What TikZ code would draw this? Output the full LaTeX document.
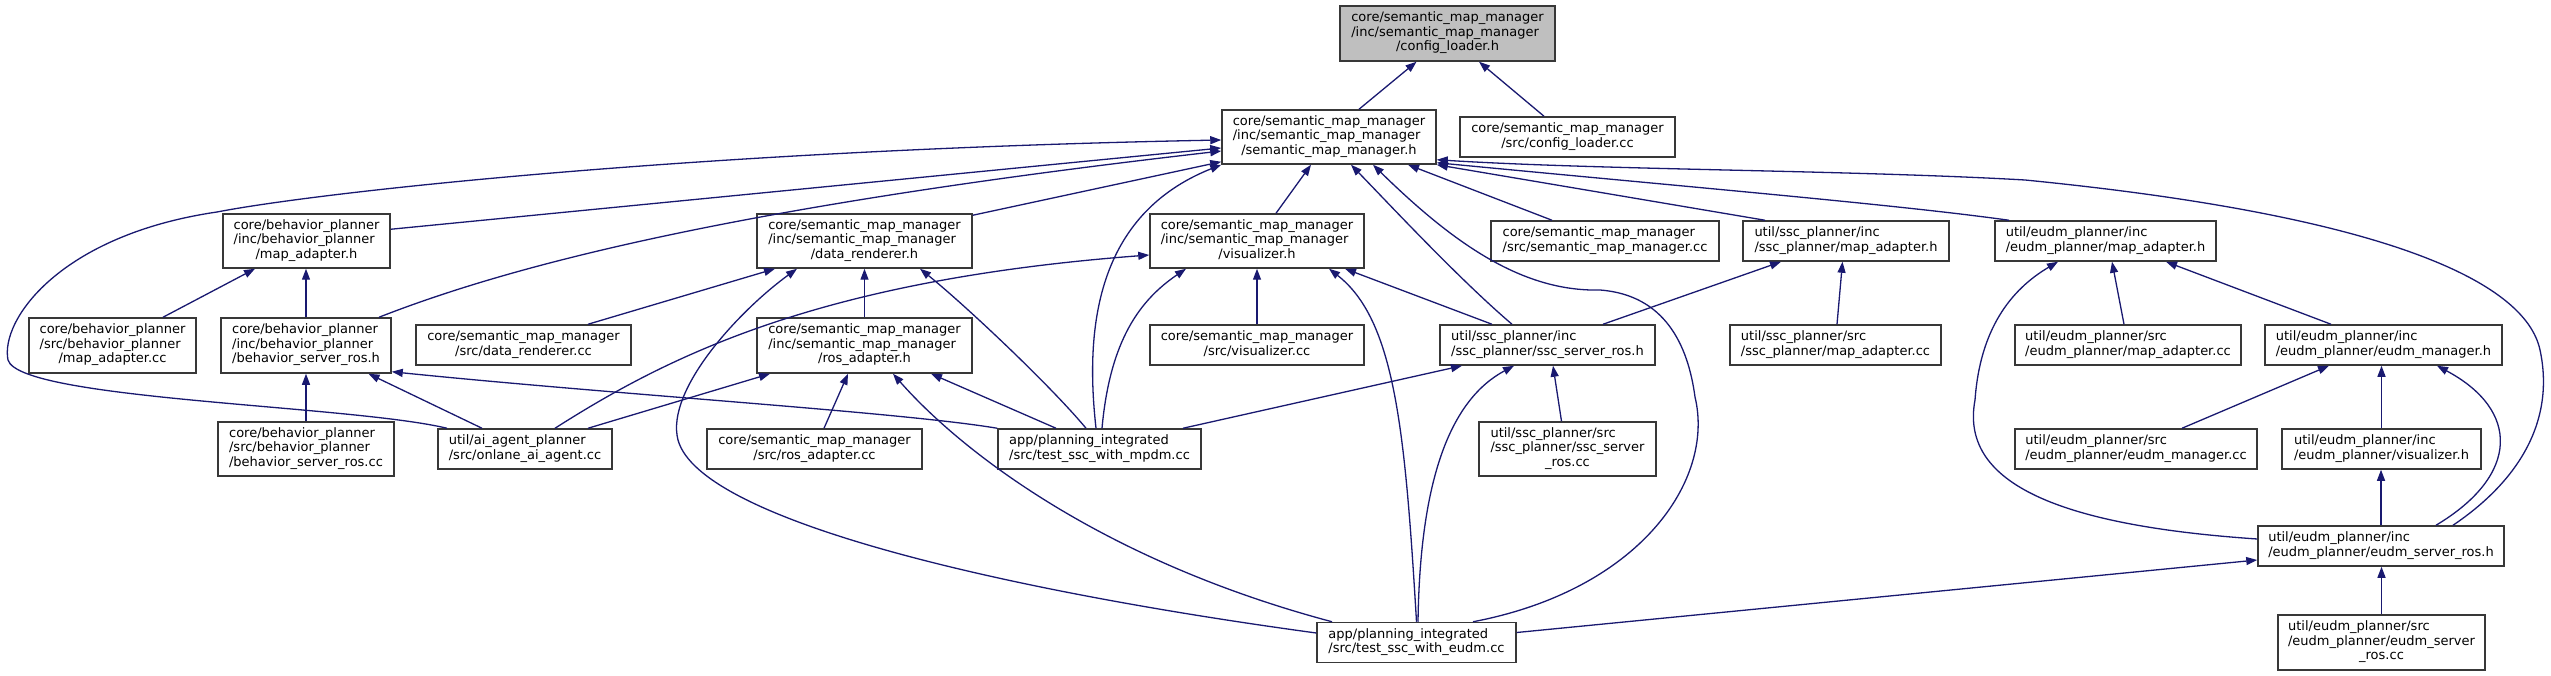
\documentclass[tikz,border=0pt]{standalone}
\usepackage{fontspec}
\setmainfont{DejaVu Sans}
\usetikzlibrary{arrows.meta}
\definecolor{edgec}{HTML}{191970}
\definecolor{bordc}{HTML}{383838}
\definecolor{fillg}{HTML}{BFBFBF}
\newcommand\lbl[2]{\begin{tabular}{@{}l@{}}#1\\\multicolumn{1}{@{}c@{}}{#2}\end{tabular}}
\begin{document}
\begin{tikzpicture}[x=1pt,y=-1pt,
  box/.style={draw=bordc, line width=1.5pt, fill=white, inner sep=0pt, font=\fontsize{13}{14.5}\selectfont},
  edge/.style={draw=edgec, line width=1.3pt, -{Triangle[length=11pt,width=8pt]}}]
\fill[white] (0,0) rectangle (2551,676);
\useasboundingbox (0,0) rectangle (2551,676);
% nodes
\node[box, fill=fillg, minimum width=215pt, minimum height=55pt] (CL) at (1447.5,33.5) {\lbl{core/semantic\_map\_manager\\/inc/semantic\_map\_manager}{/config\_loader.h}};
\node[box, minimum width=214pt, minimum height=54pt] (SMM) at (1329,137) {\lbl{core/semantic\_map\_manager\\/inc/semantic\_map\_manager}{/semantic\_map\_manager.h}};
\node[box, minimum width=215pt, minimum height=40pt] (CLcc) at (1567.5,137) {\lbl{core/semantic\_map\_manager}{/src/config\_loader.cc}};
\node[box, minimum width=167pt, minimum height=54pt] (BMA) at (306.5,241) {\lbl{core/behavior\_planner\\/inc/behavior\_planner}{/map\_adapter.h}};
\node[box, minimum width=215pt, minimum height=54pt] (DR) at (864.5,241) {\lbl{core/semantic\_map\_manager\\/inc/semantic\_map\_manager}{/data\_renderer.h}};
\node[box, minimum width=214pt, minimum height=54pt] (VIS) at (1257,241) {\lbl{core/semantic\_map\_manager\\/inc/semantic\_map\_manager}{/visualizer.h}};
\node[box, minimum width=228pt, minimum height=40pt] (SMMcc) at (1605,241) {\lbl{core/semantic\_map\_manager}{/src/semantic\_map\_manager.cc}};
\node[box, minimum width=206pt, minimum height=40pt] (SMA) at (1846,241) {\lbl{util/ssc\_planner/inc}{/ssc\_planner/map\_adapter.h}};
\node[box, minimum width=221pt, minimum height=40pt] (EMA) at (2105.5,241) {\lbl{util/eudm\_planner/inc}{/eudm\_planner/map\_adapter.h}};
\node[box, minimum width=167pt, minimum height=55pt] (BMAcc) at (112.5,345.5) {\lbl{core/behavior\_planner\\/src/behavior\_planner}{/map\_adapter.cc}};
\node[box, minimum width=170pt, minimum height=55pt] (BSR) at (306,345.5) {\lbl{core/behavior\_planner\\/inc/behavior\_planner}{/behavior\_server\_ros.h}};
\node[box, minimum width=215pt, minimum height=40pt] (DRcc) at (523.5,345) {\lbl{core/semantic\_map\_manager}{/src/data\_renderer.cc}};
\node[box, minimum width=215pt, minimum height=55pt] (ROS) at (864.5,345.5) {\lbl{core/semantic\_map\_manager\\/inc/semantic\_map\_manager}{/ros\_adapter.h}};
\node[box, minimum width=214pt, minimum height=40pt] (VIScc) at (1257,345) {\lbl{core/semantic\_map\_manager}{/src/visualizer.cc}};
\node[box, minimum width=215pt, minimum height=40pt] (SSR) at (1547.5,345) {\lbl{util/ssc\_planner/inc}{/ssc\_planner/ssc\_server\_ros.h}};
\node[box, minimum width=211pt, minimum height=40pt] (SMAcc) at (1835.5,345) {\lbl{util/ssc\_planner/src}{/ssc\_planner/map\_adapter.cc}};
\node[box, minimum width=226pt, minimum height=40pt] (EMAcc) at (2128,345) {\lbl{util/eudm\_planner/src}{/eudm\_planner/map\_adapter.cc}};
\node[box, minimum width=237pt, minimum height=40pt] (EM) at (2383.5,345) {\lbl{util/eudm\_planner/inc}{/eudm\_planner/eudm\_manager.h}};
\node[box, minimum width=176pt, minimum height=54pt] (BSRcc) at (306,449) {\lbl{core/behavior\_planner\\/src/behavior\_planner}{/behavior\_server\_ros.cc}};
\node[box, minimum width=174pt, minimum height=40pt] (AI) at (525,449) {\lbl{util/ai\_agent\_planner}{/src/onlane\_ai\_agent.cc}};
\node[box, minimum width=215pt, minimum height=40pt] (ROScc) at (814.5,449) {\lbl{core/semantic\_map\_manager}{/src/ros\_adapter.cc}};
\node[box, minimum width=203pt, minimum height=40pt] (MPDM) at (1099.5,449) {\lbl{app/planning\_integrated}{/src/test\_ssc\_with\_mpdm.cc}};
\node[box, minimum width=177pt, minimum height=54pt] (SSRcc) at (1567.5,449) {\lbl{util/ssc\_planner/src\\/ssc\_planner/ssc\_server}{\_ros.cc}};
\node[box, minimum width=242pt, minimum height=40pt] (EMcc) at (2136,449) {\lbl{util/eudm\_planner/src}{/eudm\_planner/eudm\_manager.cc}};
\node[box, minimum width=199pt, minimum height=40pt] (EV) at (2381.5,449) {\lbl{util/eudm\_planner/inc}{/eudm\_planner/visualizer.h}};
\node[box, minimum width=246pt, minimum height=40pt] (ESR) at (2381,546) {\lbl{util/eudm\_planner/inc}{/eudm\_planner/eudm\_server\_ros.h}};
\node[box, minimum width=199pt, minimum height=40pt] (EUDM) at (1416.5,642.5) {\lbl{app/planning\_integrated}{/src/test\_ssc\_with\_eudm.cc}};
\node[box, minimum width=207pt, minimum height=55pt] (ESRcc) at (2381.5,642.5) {\lbl{util/eudm\_planner/src\\/eudm\_planner/eudm\_server}{\_ros.cc}};
% edges
\draw[edge] ([xshift=30pt]SMM.north) -- ([xshift=-31pt]CL.south);
\draw[edge] ([xshift=-23.5pt]CLcc.north) -- ([xshift=31.5pt]CL.south);
\draw[edge] ([xshift=50.5pt]BMAcc.north) -- ([xshift=-51.5pt]BMA.south);
\draw[edge] (BSR.north) -- (BMA.south -| BSR.north);
\draw[edge] (BSRcc.north) -- (BSRcc.north |- BSR.south);
\draw[edge] ([xshift=-43pt]AI.north) -- ([xshift=62.5pt]BSR.south);
\draw[edge] (MPDM.north west) .. controls (900,412) and (620,395) .. ([yshift=2pt]BSR.south east);
\draw[edge] ([xshift=64.5pt]DRcc.north) -- ([xshift=-89.5pt]DR.south);
\draw[edge] (ROS.north) -- (ROS.north |- DR.south);
\draw[edge] ([xshift=-13.5pt]MPDM.north) .. controls (1050,385) and (965,305) .. ([xshift=55.5pt]DR.south);
\draw[edge] ([yshift=9.5pt]EUDM.west) .. controls (1000,590) and (700,520) .. (678,440) .. controls (665,390) and (740,310) .. ([xshift=-67.5pt]DR.south);
\draw[edge] ([xshift=63pt]AI.north) -- ([xshift=-94.5pt]ROS.south);
\draw[edge] ([xshift=9.5pt]ROScc.north) -- ([xshift=-16.5pt]ROS.south);
\draw[edge] ([xshift=-43.5pt]MPDM.north) -- ([xshift=66.5pt]ROS.south);
\draw[edge] ([xshift=-84.5pt]EUDM.north) .. controls (1100,560) and (960,450) .. ([xshift=28.5pt]ROS.south);
\draw[edge] ([xshift=30pt]AI.north) .. controls (670,355) and (820,280) .. ([yshift=-14pt]VIS.west);
\draw[edge] (VIScc.north) -- (VIS.south);
\draw[edge] ([xshift=2.5pt]MPDM.north) .. controls (1110,340) and (1140,300) .. ([xshift=-71pt]VIS.south);
\draw[edge] ([xshift=-55.5pt]SSR.north) -- ([xshift=88pt]VIS.south);
\draw[edge] (EUDM.north) .. controls (1405,430) and (1395,320) .. ([xshift=72pt]VIS.south);
\draw[edge] ([xshift=-78pt]AI.north) .. controls (350,405) and (20,400) .. (8,360) .. controls (0,320) and (60,235) .. (217,212) .. controls (320,192) and (700,150) .. ([yshift=-3pt]SMM.west);
\draw[edge] ([yshift=-16pt]BMA.north east) -- ([yshift=-11pt]SMM.west);
\draw[edge] ([xshift=73pt]BSR.north) .. controls (520,262) and (750,205) .. ([yshift=-14pt]SMM.west);
\draw[edge] ([yshift=-2pt]DR.north east) -- ([yshift=3pt]SMM.south west);
\draw[edge] ([xshift=19pt]VIS.north) -- ([xshift=-18pt]SMM.south);
\draw[edge] ([xshift=-3.5pt]MPDM.north) .. controls (1085,330) and (1095,215) .. (SMM.south west);
\draw[edge] ([xshift=-35.5pt]SSR.north) .. controls (1460,280) and (1390,205) .. ([xshift=22pt]SMM.south);
\draw[edge] ([xshift=56.5pt]EUDM.north) .. controls (1640,590) and (1715,480) .. (1695,397) .. controls (1688,345) and (1665,295) .. (1600,290) .. controls (1520,292) and (1450,240) .. ([xshift=44pt]SMM.south);
\draw[edge] ([xshift=-53pt]SMMcc.north) -- ([xshift=79pt]SMM.south);
\draw[edge] ([xshift=-81pt]SMA.north) -- (SMM.south east);
\draw[edge] ([xshift=-96.5pt]EMA.north) .. controls (1900,205) and (1700,188) .. ([yshift=2pt]SMM.south east);
\draw[edge] ([xshift=72pt]ESR.north) .. controls (2520,480) and (2555,420) .. (2540,350) .. controls (2525,280) and (2380,215) .. (2025,180) .. controls (1850,170) and (1600,170) .. ([yshift=5pt]SMM.south east);
\draw[edge] ([xshift=55.5pt]SSR.north) -- ([xshift=-65pt]SMA.south);
\draw[edge] ([xshift=1.5pt]SMAcc.north) -- ([xshift=-3.5pt]SMA.south);
\draw[edge] ([xshift=-6pt]SSRcc.north) -- ([xshift=5.5pt]SSR.south);
\draw[edge] ([xshift=83.5pt]MPDM.north) -- ([xshift=-85.5pt]SSR.south);
\draw[edge] ([xshift=1.5pt]EUDM.north) .. controls (1420,480) and (1450,400) .. ([xshift=-33.5pt]SSR.south);
\draw[edge] ([yshift=10pt]EUDM.east) -- ([yshift=-14pt]ESR.west);
\draw[edge] ([xshift=-4pt]EMAcc.north) -- ([xshift=6.5pt]EMA.south);
\draw[edge] ([xshift=-52.5pt]EM.north) -- ([xshift=60.5pt]EMA.south);
\draw[edge] ([yshift=7pt]ESR.west) .. controls (2050,525) and (1960,480) .. (1975,400) .. controls (1980,330) and (2010,290) .. ([xshift=-47.5pt]EMA.south);
\draw[edge] ([xshift=46pt]EMcc.north) -- ([xshift=-54.5pt]EM.south);
\draw[edge] (EV.north) -- (EV.north |- EM.south);
\draw[edge] ([xshift=55pt]ESR.north) .. controls (2520,475) and (2520,410) .. ([xshift=53.5pt]EM.south);
\draw[edge] (ESR.north) -- (ESR.north |- EV.south);
\draw[edge] (ESRcc.north) -- (ESRcc.north |- ESR.south);
\end{tikzpicture}
\end{document}
